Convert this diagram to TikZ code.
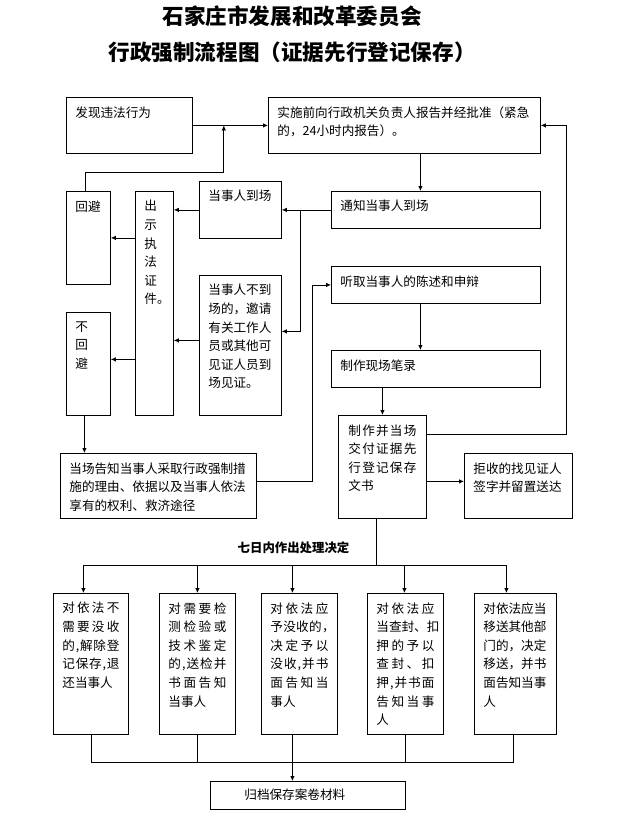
\documentclass[tikz,border=0pt]{standalone}
\usepackage{fontspec}
\setmainfont{Noto Sans CJK SC}
\usetikzlibrary{arrows.meta}

\newcommand{\bodyfont}{\fontsize{12.6pt}{18.6pt}\selectfont}
\newcommand{\boxtxt}[3]{\parbox[t][#2][t]{#1}{\bodyfont #3}}
% spread the characters of one line over the whole width
\def\spr#1{\sprA#1\relax}
\def\sprA#1{#1\sprB}
\def\sprB#1{\ifx\relax#1\else\hfill#1\expandafter\sprB\fi}
\newcommand{\jline}[1]{\hbox to\linewidth{\spr{#1}}}

\begin{document}
\begin{tikzpicture}[x=1pt, y=-1pt, line width=0.8pt,
    bx/.style={draw, anchor=north west, inner xsep=9pt, inner ysep=9pt},
    arr/.style={-{Latex[length=5pt,width=4.5pt]}}]
	\useasboundingbox (0,0) rectangle (624,827);

	% title
	\node[font=\fontsize{21.6pt}{30pt}\selectfont\bfseries] (title1) at (292,16) {石家庄市发展和改革委员会};
	\node[font=\fontsize{21.6pt}{30pt}\selectfont\bfseries] (title2) at (292,52) {行政强制流程图（证据先行登记保存）};

	% boxes
	\node[bx] (fx) at (66,97) {\boxtxt{108pt}{38pt}{发现违法行为}};
	\node[bx] (ss) at (268,97) {\boxtxt{254pt}{38pt}{实施前向行政机关负责人报告并经批准（紧急\\的，24小时内报告）。}};
	\node[bx] (hb) at (66,191) {\boxtxt{26pt}{75pt}{回避}};
	\node[bx] (cs) at (135,191) {\boxtxt{20pt}{206pt}{出\\示\\执\\法\\证\\件。}};
	\node[bx] (dc) at (199,181) {\boxtxt{64pt}{39pt}{当事人到场}};
	\node[bx] (tz) at (331,191) {\boxtxt{191pt}{19pt}{通知当事人到场}};
	\node[bx] (bdc) at (199,275) {\boxtxt{64pt}{122pt}{当事人不到\\场的，邀请\\有关工作人\\员或其他可\\见证人员到\\场见证。}};
	\node[bx] (tq) at (331,266) {\boxtxt{191pt}{19pt}{听取当事人的陈述和申辩}};
	\node[bx] (bl) at (331,350) {\boxtxt{191pt}{19pt}{制作现场笔录}};
	\node[bx] (bhb) at (66,312) {\boxtxt{26pt}{85pt}{不\\回\\避}};
	\node[bx, inner xsep=10pt] (zz) at (338,415) {\boxtxt{68pt}{85pt}{\jline{制作并当场}\jline{交付证据先}\jline{行登记保存}文书}};
	\node[bx] (gz) at (60,453) {\boxtxt{178pt}{47pt}{当场告知当事人采取行政强制措\\施的理由、依据以及当事人依法\\享有的权利、救济途径}};
	\node[bx] (js) at (464,453) {\boxtxt{90pt}{47pt}{拒收的找见证人\\签字并留置送达}};

	\node[font=\fontsize{12.4pt}{15pt}\selectfont\bfseries] (seven) at (293.5,548) {七日内作出处理决定};

	\node[bx] (r1) at (53,593) {\boxtxt{57pt}{123pt}{\jline{对依法不}\jline{需要没收}\jline{的,解除登}\jline{记保存,退}还当事人}};
	\node[bx] (r2) at (159,593) {\boxtxt{58pt}{123pt}{\jline{对需要检}\jline{测检验或}\jline{技术鉴定}\jline{的,送检并}\jline{书面告知}当事人}};
	\node[bx] (r3) at (261,593) {\boxtxt{58pt}{123pt}{\jline{对依法应}\jline{予没收的{\makebox[0.5em][l]{，}}}\jline{决定予以}\jline{没收,并书}\jline{面告知当}事人}};
	\node[bx] (r4) at (367,593) {\boxtxt{58pt}{123pt}{\jline{对依法应}\jline{当查封、扣}\jline{押的予以}\jline{查封、扣}\jline{押,并书面}\jline{告知当事}人}};
	\node[bx] (r5) at (474,593) {\boxtxt{64pt}{123pt}{对依法应当\\移送其他部\\门的，决定\\移送，并书\\面告知当事\\人}};
	\node[bx, inner xsep=34pt, inner ysep=7.5pt] (gd) at (210,781) {\boxtxt{127pt}{13pt}{归档保存案卷材料}};

	% connectors
	\draw[arr] (fx.east) -- (ss.west);
	\draw[arr] ([xshift=-3pt]hb.north) -- ++(0,-19) -| ([xshift=31pt]fx.east);
	\draw[arr] ([xshift=16pt]ss.south) -- ([xshift=-15.5pt]tz.north);
	\draw[arr] (tz.west) -- (dc.east);
	\coordinate (fork) at ([xshift=-31pt]tz.west);
	\draw[arr] (fork) |- ([yshift=14pt]bdc.east);
	\draw[arr] (dc.west) -- (dc.west -| cs.east);
	\coordinate (a2) at ([yshift=5pt]bdc.west);
	\draw[arr] (a2) -- (a2 -| cs.east);
	\draw[arr] (cs.west |- hb.east) -- (hb.east);
	\coordinate (a3) at ([yshift=4.5pt]bhb.east);
	\draw[arr] (cs.west |- a3) -- (a3);
	\coordinate (a4) at ([xshift=-4pt]bhb.south);
	\draw[arr] (a4) -- (a4 |- gz.north);
	\draw[arr] ([yshift=4.5pt]gz.east) -- ++(56,0) |- (tq.west);
	\draw[arr] ([xshift=-15.5pt]tq.south) -- ([xshift=-15.5pt]bl.north);
	\draw[arr] (zz.north |- bl.south) -- (zz.north);
	\draw[arr] ([yshift=32.5pt]zz.east) -- ++(140,0) |- (ss.east);
	\coordinate (a5) at ([yshift=4.5pt]js.west);
	\draw[arr] (zz.east |- a5) -- (a5);

	% seven day decision
	\coordinate (h1) at (376,565);
	\draw (zz.south -| h1) -- (h1);
	\coordinate (hl) at (83,565);
	\coordinate (hr) at (506,565);
	\draw (hl) -- (hr);
	\foreach \n/\dx in {r1/-7.5, r2/0, r3/-7, r4/-1, r5/-9}
		\draw[arr] ([xshift=\dx pt, yshift=28pt]\n.north) -- ([xshift=\dx pt]\n.north);
	\foreach \n/\dx in {r1/0.5, r2/0, r3/-7, r4/0, r5/-2}
		\draw ([xshift=\dx pt]\n.south) -- ([xshift=\dx pt, yshift=-28pt]\n.south);
	\coordinate (bl1) at (91,762);
	\coordinate (br1) at (513,762);
	\draw (bl1) -- (br1);
	\draw[arr] ([xshift=-15.5pt, yshift=19pt]gd.north) -- ([xshift=-15.5pt]gd.north);
\end{tikzpicture}
\end{document}
